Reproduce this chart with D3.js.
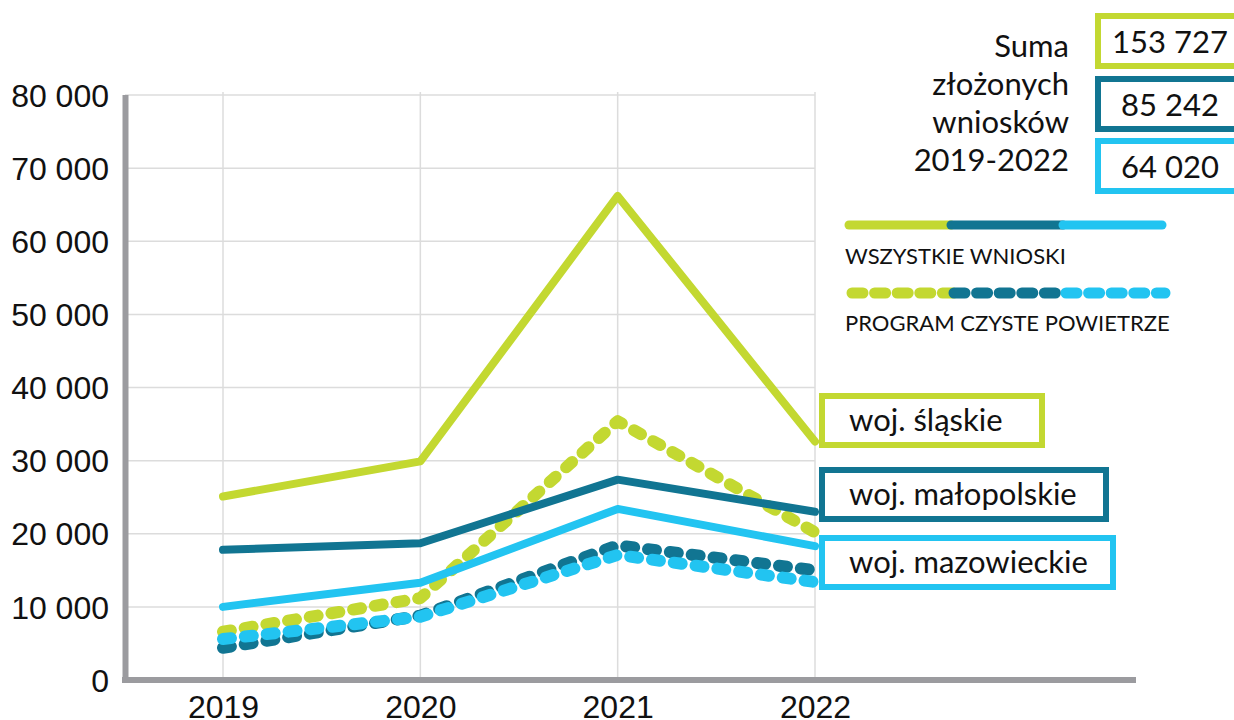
<!DOCTYPE html>
<html>
<head>
<meta charset="utf-8">
<script src="https://cdn.jsdelivr.net/npm/d3@7"></script>
<style>
  body { margin: 0; background: #fff; }
  svg { display: block; }
</style>
</head>
<body>
<div id="chart"></div>
<script>
const years = ['2019', '2020', '2021', '2022'];
const regions = ['woj. śląskie', 'woj. małopolskie', 'woj. mazowieckie'];
const colors = ['#c3d831', '#117592', '#22c4f1'];

// wszystkie wnioski (solid)
const allSlaskie = [25100, 29900, 66200, 32600];
const allMalopolskie = [17800, 18700, 27400, 23000];
const allMazowieckie = [10000, 13300, 23400, 18300];

// program Czyste Powietrze (dashed)
const cpSlaskie = [6600, 11200, 35400, 20200];
const cpMalopolskie = [4400, 8800, 18400, 15000];
const cpMazowieckie = [5600, 8650, 17100, 13400];

const totals = ['153 727', '85 242', '64 020'];
const sumLabel = ['Suma', 'złożonych', 'wniosków', '2019-2022'];
const legendLabels = ['WSZYSTKIE WNIOSKI', 'PROGRAM CZYSTE POWIETRZE'];
const yTicks = [0, 10000, 20000, 30000, 40000, 50000, 60000, 70000, 80000];

const width = 1234, height = 720;
const svg = d3.select('#chart').append('svg')
  .attr('width', width)
  .attr('height', height);

const x = d3.scalePoint().domain(years).range([223, 815]);
const y = d3.scaleLinear().domain([0, 80000]).range([680, 95]);
const fmt = v => d3.format(',')(v).replace(/,/g, ' ');

// grid
svg.append('g')
  .selectAll('line')
  .data(yTicks)
  .enter().append('line')
  .attr('x1', 125).attr('x2', x('2022'))
  .attr('y1', d => y(d)).attr('y2', d => y(d))
  .style('stroke', '#dcdcdc')
  .style('stroke-width', 1.5);

svg.append('g')
  .selectAll('line')
  .data(years)
  .enter().append('line')
  .attr('x1', d => x(d)).attr('x2', d => x(d))
  .attr('y1', 92).attr('y2', 683)
  .style('stroke', '#dcdcdc')
  .style('stroke-width', 1.5);

// axes
const yAxis = svg.append('g')
  .attr('transform', 'translate(109,0)')
  .call(d3.axisLeft(y).tickValues(yTicks).tickSize(0).tickPadding(0).tickFormat(fmt));
yAxis.select('.domain').remove();
yAxis.selectAll('text')
  .attr('dy', '0.35em')
  .style('font-family', '"Liberation Sans", Arial, sans-serif')
  .style('font-size', '32px')
  .style('fill', '#111');

svg.append('line')
  .attr('x1', 125.5).attr('x2', 125.5)
  .attr('y1', 95).attr('y2', 683)
  .style('stroke', '#9b9b9f').style('stroke-width', 6);
svg.append('line')
  .attr('x1', 122).attr('x2', 1136)
  .attr('y1', 680).attr('y2', 680)
  .style('stroke', '#9b9b9f').style('stroke-width', 6);

const xAxis = svg.append('g')
  .attr('transform', 'translate(0,696)')
  .call(d3.axisBottom(x).tickSize(0).tickPadding(0));
xAxis.select('.domain').remove();
xAxis.selectAll('text')
  .attr('dy', '0.7em')
  .style('font-family', '"Liberation Sans", Arial, sans-serif')
  .style('font-size', '32px')
  .style('fill', '#111');

const line = d3.line()
  .x((d, i) => x(years[i]))
  .y(d => y(d));

// dashed first, solid on top
const dashed = [cpSlaskie, cpMalopolskie, cpMazowieckie];
const solid = [allSlaskie, allMalopolskie, allMazowieckie];

svg.append('g')
  .selectAll('path')
  .data(dashed)
  .enter().append('path')
  .attr('d', line)
  .style('fill', 'none')
  .style('stroke', (d, i) => colors[i])
  .style('stroke-width', 12)
  .style('stroke-linecap', 'round')
  .style('stroke-linejoin', 'round')
  .style('stroke-dasharray', '8 14');

svg.append('g')
  .selectAll('path')
  .data(solid)
  .enter().append('path')
  .attr('d', line)
  .style('fill', 'none')
  .style('stroke', (d, i) => colors[i])
  .style('stroke-width', 8)
  .style('stroke-linecap', 'round')
  .style('stroke-linejoin', 'round');

// region label boxes
const boxes = [
  { y: 396, w: 220 },
  { y: 470, w: 284 },
  { y: 538, w: 291 }
];
const lab = svg.append('g')
  .selectAll('g')
  .data(regions)
  .enter().append('g')
  .attr('transform', (d, i) => `translate(822,${boxes[i].y})`);
lab.append('rect')
  .attr('width', (d, i) => boxes[i].w)
  .attr('height', 49)
  .style('fill', '#fff')
  .style('stroke', (d, i) => colors[i])
  .style('stroke-width', 6);
lab.append('text')
  .attr('x', 27).attr('y', 35)
  .text(d => d)
  .style('font-family', 'Lato, sans-serif')
  .style('font-size', '31px')
  .style('fill', '#111');

// sums
svg.append('g')
  .selectAll('text')
  .data(sumLabel)
  .enter().append('text')
  .attr('x', 1069)
  .attr('y', (d, i) => 57 + i * 38)
  .attr('text-anchor', 'end')
  .text(d => d)
  .style('font-family', 'Lato, sans-serif')
  .style('font-size', '31px')
  .style('fill', '#111');

const tot = svg.append('g')
  .selectAll('g')
  .data(totals)
  .enter().append('g')
  .attr('transform', (d, i) => `translate(1098,${[16, 79, 141][i]})`);
tot.append('rect')
  .attr('width', 150)
  .attr('height', 50)
  .style('fill', '#fff')
  .style('stroke', (d, i) => colors[i])
  .style('stroke-width', 6);
tot.append('text')
  .attr('x', 72).attr('y', 37)
  .attr('text-anchor', 'middle')
  .text(d => d)
  .style('font-family', 'Lato, sans-serif')
  .style('font-size', '31px')
  .style('fill', '#111');

// legend
const segs = [[849, 951], [951, 1063], [1063, 1162]];
const leg = svg.append('g');
segs.forEach((s, i) => {
  leg.append('line')
    .attr('x1', s[0]).attr('x2', s[1])
    .attr('y1', 225).attr('y2', 225)
    .style('stroke', colors[i])
    .style('stroke-width', 9)
    .style('stroke-linecap', 'round');
});
segs.forEach((s, i) => {
  leg.append('line')
    .attr('x1', s[0] + 3).attr('x2', s[1] + 3)
    .attr('y1', 293).attr('y2', 293)
    .style('stroke', colors[i])
    .style('stroke-width', 11)
    .style('stroke-linecap', 'round')
    .style('stroke-dasharray', '11 11.6');
});
leg.selectAll('text')
  .data(legendLabels)
  .enter().append('text')
  .attr('x', 845)
  .attr('y', (d, i) => 264 + i * 67)
  .text(d => d)
  .style('font-family', 'Lato, sans-serif')
  .style('font-size', '22px')
  .style('fill', '#111');
</script>
</body>
</html>
